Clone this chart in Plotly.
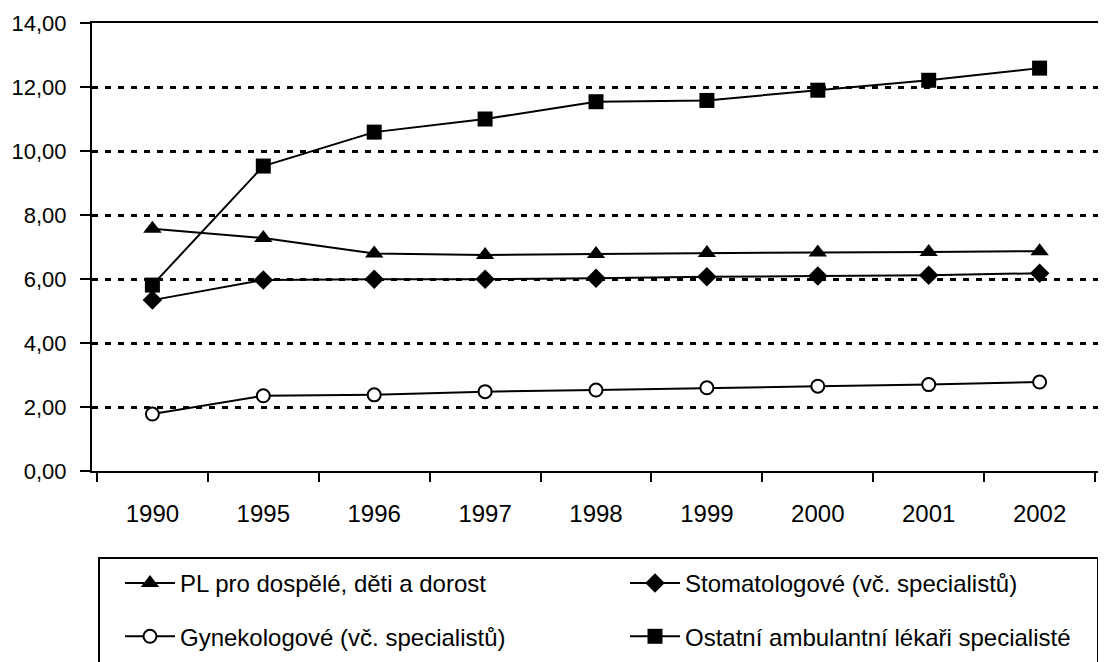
import plotly.graph_objects as go

years = ["1990", "1995", "1996", "1997", "1998", "1999", "2000", "2001", "2002"]

pl_dospele = [7.57, 7.28, 6.80, 6.75, 6.78, 6.81, 6.83, 6.84, 6.87]
stomatologove = [5.34, 5.97, 5.99, 5.99, 6.02, 6.07, 6.09, 6.12, 6.18]
gynekologove = [1.78, 2.35, 2.38, 2.48, 2.53, 2.60, 2.65, 2.70, 2.78]
ostatni = [5.81, 9.53, 10.59, 11.00, 11.54, 11.58, 11.90, 12.21, 12.59]

y_tick_vals = [0, 2, 4, 6, 8, 10, 12, 14]
y_tick_labels = ["0,00", "2,00", "4,00", "6,00", "8,00", "10,00", "12,00", "14,00"]

names = [
    "PL pro dospělé, děti a dorost",
    "Stomatologové (vč. specialistů)",
    "Gynekologové (vč. specialistů)",
    "Ostatní ambulantní lékaři specialisté",
]

FONT = "Liberation Sans, Arial, sans-serif"

fig = go.Figure()
fig.add_trace(go.Scatter(
    x=years, y=pl_dospele, name=names[0], mode="lines+markers",
    line=dict(color="black", width=2),
    marker=dict(symbol="triangle-up", size=16, color="black"),
    legend="legend", legendgroup="a",
))
fig.add_trace(go.Scatter(
    x=years, y=stomatologove, name=names[1], mode="lines+markers",
    line=dict(color="black", width=2),
    marker=dict(symbol="diamond", size=15, color="black"),
    legend="legend2", legendgroup="b",
))
fig.add_trace(go.Scatter(
    x=years, y=gynekologove, name=names[2], mode="lines+markers",
    line=dict(color="black", width=2),
    marker=dict(symbol="circle", size=13, color="white", line=dict(color="black", width=2)),
    legend="legend", legendgroup="c",
))
fig.add_trace(go.Scatter(
    x=years, y=ostatni, name=names[3], mode="lines+markers",
    line=dict(color="black", width=2),
    marker=dict(symbol="square", size=15, color="black"),
    legend="legend2", legendgroup="d",
))

W, H = 1106, 662
ml, mr, mt, mb = 84, 14, 15, 199
pw = W - ml - mr
ph = H - mt - mb

def px_to_paper_x(px):
    return (px - ml) / pw

def px_to_paper_y(py):
    return (H - mb - py) / ph

legend_common = dict(
    font=dict(family=FONT, size=24, color="black"),
    bgcolor="rgba(0,0,0,0)",
    borderwidth=0,
    orientation="v",
    xanchor="left",
    yanchor="top",
    tracegroupgap=19,
    itemwidth=50,
)

fig.update_layout(
    width=W, height=H,
    margin=dict(l=ml, r=mr, t=mt, b=mb, autoexpand=False),
    paper_bgcolor="white",
    plot_bgcolor="white",
    font=dict(family=FONT, size=24, color="black"),
    showlegend=True,
    legend=dict(x=px_to_paper_x(112), y=px_to_paper_y(553), **legend_common),
    legend2=dict(x=px_to_paper_x(617), y=px_to_paper_y(553), **legend_common),
    xaxis=dict(
        type="category",
        categoryorder="array", categoryarray=years,
        showline=True, linecolor="black", linewidth=2, mirror=True,
        ticks="outside", ticklen=9, tickwidth=2, tickcolor="black",
        tickson="boundaries",
        showgrid=False, zeroline=False, automargin=False,
        tickfont=dict(family=FONT, size=24, color="black"),
        ticklabelstandoff=20,
    ),
    yaxis=dict(
        range=[0, 14],
        tickvals=y_tick_vals, ticktext=y_tick_labels,
        showline=True, linecolor="black", linewidth=2,
        ticks="outside", ticklen=10, tickwidth=2, tickcolor="black",
        showgrid=True, gridcolor="black", gridwidth=3, griddash="6px,7px",
        zeroline=False, automargin=False,
        tickfont=dict(family=FONT, size=22, color="black"),
        ticklabelstandoff=9,
    ),
    shapes=[
        dict(type="rect", xref="paper", yref="paper",
             x0=px_to_paper_x(91), x1=px_to_paper_x(1090),
             y0=px_to_paper_y(660), y1=px_to_paper_y(550),
             line=dict(color="black", width=2), fillcolor="rgba(0,0,0,0)", layer="below"),
    ],
)

fig.write_html("out.html")
